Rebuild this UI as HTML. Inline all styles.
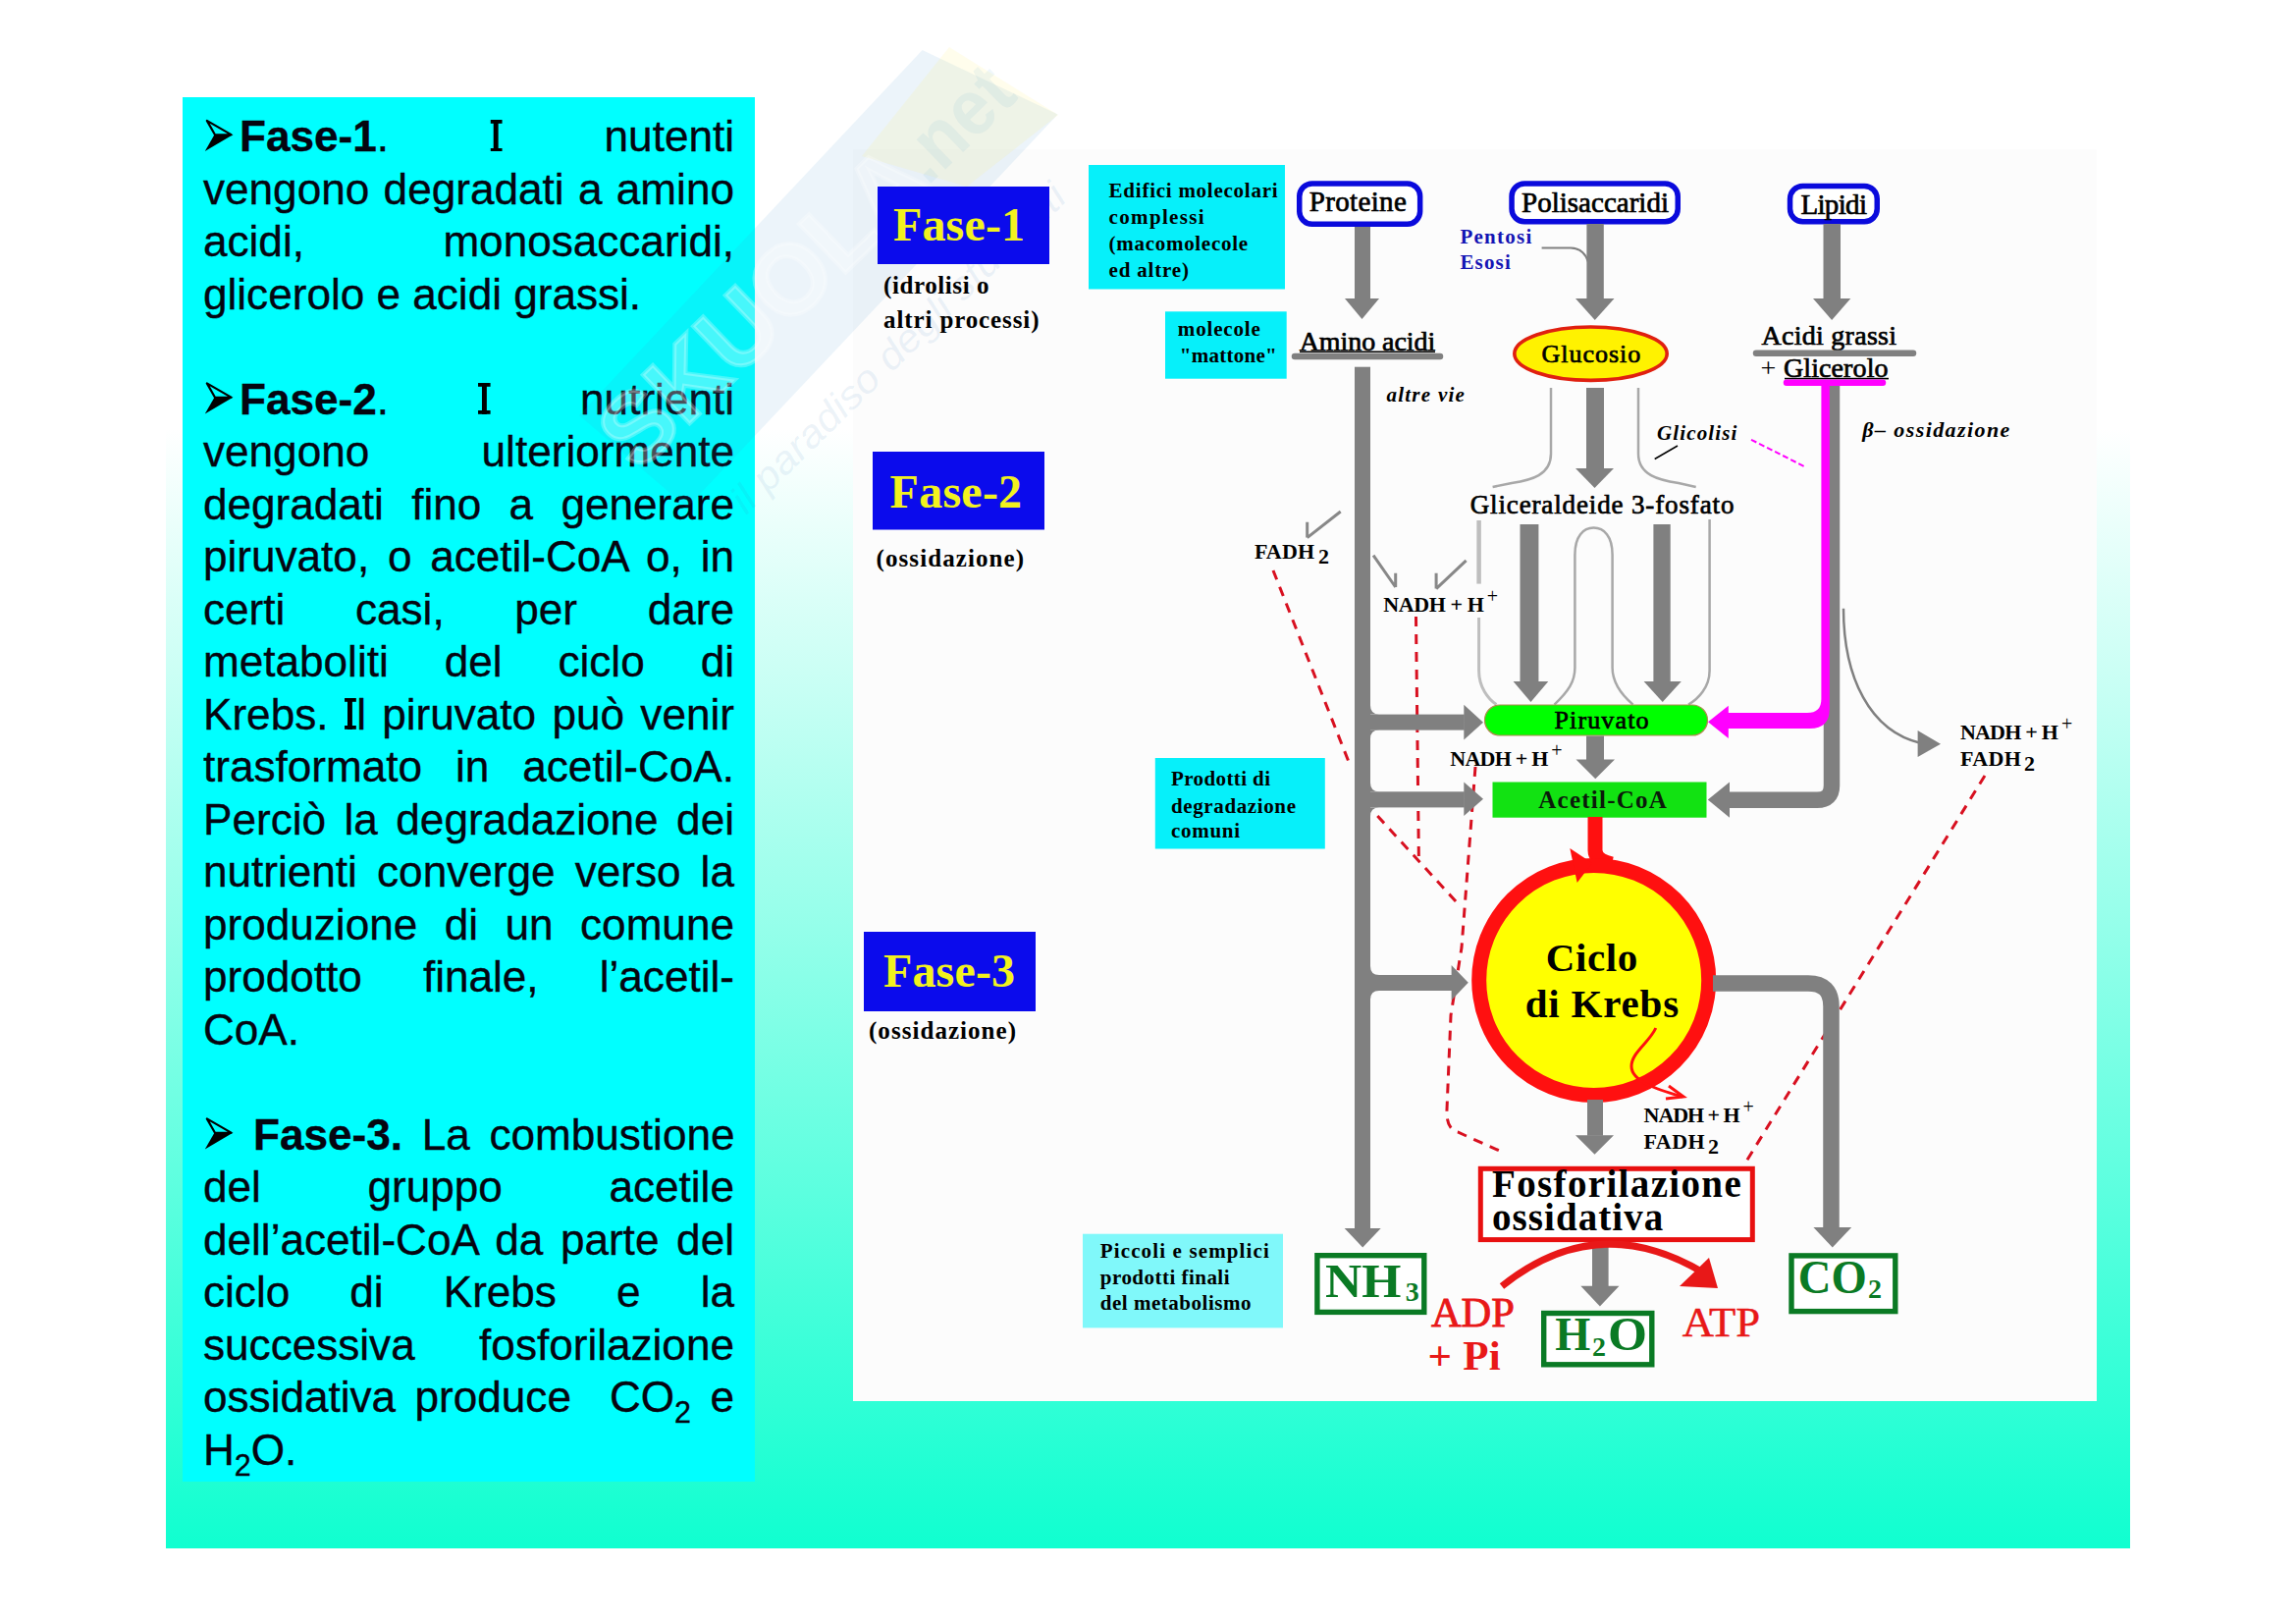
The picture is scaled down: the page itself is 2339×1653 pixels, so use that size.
<!DOCTYPE html>
<html><head><meta charset="utf-8">
<style>
html,body{margin:0;padding:0;background:#fff;width:2339px;height:1653px;overflow:hidden;position:relative}
#slide{position:absolute;left:169px;top:76px;width:2001px;height:1501px;background:linear-gradient(to bottom,#ffffff 0%,#ffffff 24%,#10FFD0 100%)}
#tbox{position:absolute;left:186px;top:99px;width:583px;height:1410px;background:#00FFFF}
.ln{position:absolute;font-family:"Liberation Sans",sans-serif;font-size:45px;line-height:45px;height:45px;white-space:nowrap;color:#050510;-webkit-text-stroke:0.35px #050510;transform:scaleX(0.98);transform-origin:0 0;text-align:left}
.ln.j{text-align:justify;text-align-last:justify}
.I{display:inline-block;width:12.6px;height:32px;vertical-align:baseline;background:linear-gradient(#000,#000) center/5.4px 100% no-repeat,linear-gradient(#000,#000) top/100% 3.8px no-repeat,linear-gradient(#000,#000) bottom/100% 3.8px no-repeat}
.ln sub{font-size:0.69em;vertical-align:-0.35em;line-height:0}
svg{position:absolute;left:0;top:0}
</style></head><body>
<div id="slide"></div>
<div id="tbox"></div>
<div class="ln j" style="left:244px;top:116.4px;width:514.3px"><b>Fase-1</b>. <span class="I"></span> nutenti</div>
<div class="ln j" style="left:207px;top:169.9px;width:552.0px">vengono degradati a amino</div>
<div class="ln j" style="left:207px;top:223.4px;width:552.0px">acidi, monosaccaridi,</div>
<div class="ln" style="left:207px;top:276.9px;width:552.0px">glicerolo e acidi grassi.</div>
<div class="ln j" style="left:244px;top:383.9px;width:514.3px"><b>Fase-2</b>. <span class="I"></span> nutrienti</div>
<div class="ln j" style="left:207px;top:437.4px;width:552.0px">vengono ulteriormente</div>
<div class="ln j" style="left:207px;top:490.9px;width:552.0px">degradati fino a generare</div>
<div class="ln j" style="left:207px;top:544.4px;width:552.0px">piruvato, o acetil-CoA o, in</div>
<div class="ln j" style="left:207px;top:597.9px;width:552.0px">certi casi, per dare</div>
<div class="ln j" style="left:207px;top:651.4px;width:552.0px">metaboliti del ciclo di</div>
<div class="ln j" style="left:207px;top:704.9px;width:552.0px">Krebs. <span class="I"></span>l piruvato può venir</div>
<div class="ln j" style="left:207px;top:758.4px;width:552.0px">trasformato in acetil-CoA.</div>
<div class="ln j" style="left:207px;top:811.9px;width:552.0px">Perciò la degradazione dei</div>
<div class="ln j" style="left:207px;top:865.4px;width:552.0px">nutrienti converge verso la</div>
<div class="ln j" style="left:207px;top:918.9px;width:552.0px">produzione di un comune</div>
<div class="ln j" style="left:207px;top:972.4px;width:552.0px">prodotto finale, l’acetil-</div>
<div class="ln" style="left:207px;top:1025.9px;width:552.0px">CoA.</div>
<div class="ln j" style="left:257.5px;top:1132.9px;width:500.5px"><b>Fase-3.</b> La combustione</div>
<div class="ln j" style="left:207px;top:1186.4px;width:552.0px">del gruppo acetile</div>
<div class="ln j" style="left:207px;top:1239.9px;width:552.0px">dell’acetil-CoA da parte del</div>
<div class="ln j" style="left:207px;top:1293.4px;width:552.0px">ciclo di Krebs e la</div>
<div class="ln j" style="left:207px;top:1346.9px;width:552.0px">successiva fosforilazione</div>
<div class="ln j" style="left:207px;top:1400.4px;width:552.0px">ossidativa produce &nbsp;CO<sub>2</sub> e</div>
<div class="ln" style="left:207px;top:1453.9px;width:552.0px">H<sub>2</sub>O.</div>
<svg width="2339" height="1653" viewBox="0 0 2339 1653">
<polygon points="218.4,137.3 237.6,137.1 208.8,153.9" fill="#000"/>
<polygon points="210.8,122.9 235.5,137.1 219,137.3" fill="none" stroke="#000" stroke-width="2.2" stroke-linejoin="round"/>
<polygon points="218.4,404.8 237.6,404.6 208.8,421.4" fill="#000"/>
<polygon points="210.8,390.4 235.5,404.6 219,404.8" fill="none" stroke="#000" stroke-width="2.2" stroke-linejoin="round"/>
<polygon points="218.4,1153.8 237.6,1153.6 208.8,1170.4" fill="#000"/>
<polygon points="210.8,1139.4 235.5,1153.6 219,1153.8" fill="none" stroke="#000" stroke-width="2.2" stroke-linejoin="round"/>
<rect x="869" y="152" width="1267" height="1275" fill="#FCFCFC" />
<g opacity="1">
<polygon points="590,423 939.6,51 1077.6,116.6 700,517" fill="rgba(70,150,210,0.10)"/>
<polygon points="878,159 967,48 1078,117 985,190" fill="rgba(255,240,120,0.14)"/>
<text x="0" y="0" transform="translate(650,482) rotate(-44)" font-family="Liberation Sans" font-weight="bold" font-size="100" textLength="420" lengthAdjust="spacingAndGlyphs" fill="rgba(255,255,255,0.26)" stroke="rgba(255,255,255,0.26)" stroke-width="4">SKUOLA</text>
<text x="0" y="0" transform="translate(945,190) rotate(-44)" font-family="Liberation Sans" font-weight="bold" font-size="80" textLength="130" lengthAdjust="spacingAndGlyphs" fill="rgba(70,150,210,0.08)">.net</text>
<text x="0" y="0" transform="translate(760,525) rotate(-44.4)" font-family="Liberation Sans" font-style="italic" font-size="40" textLength="460" lengthAdjust="spacingAndGlyphs" fill="rgba(70,130,190,0.10)">il paradiso degli studenti</text>
</g>
<path d="M1297,581 L1376,781" stroke="#D81020" stroke-width="3" fill="none" stroke-dasharray="10,8"/>
<path d="M1403.3,831 L1484.6,919.7" stroke="#D81020" stroke-width="3" fill="none" stroke-dasharray="10,8"/>
<path d="M1442.5,628 L1445.4,877" stroke="#D81020" stroke-width="3" fill="none" stroke-dasharray="10,8"/>
<path d="M1503,781 L1489,965 L1478,1034 L1474,1130 Q1473,1150 1485,1153 L1532,1174" stroke="#D81020" stroke-width="3" fill="none" stroke-dasharray="10,8"/>
<path d="M2022,790 L1777,1186" stroke="#D81020" stroke-width="3" fill="none" stroke-dasharray="10,8"/>
<rect x="894" y="190" width="175" height="79" fill="#0B0BEC" />
<text x="910" y="245" font-family="Liberation Serif" font-size="48" font-weight="bold" font-style="normal" fill="#F2F21E" textLength="134" lengthAdjust="spacing" >Fase-1</text>
<rect x="889" y="460" width="175" height="79.5" fill="#0B0BEC" />
<text x="906.6" y="517" font-family="Liberation Serif" font-size="48" font-weight="bold" font-style="normal" fill="#F2F21E" textLength="134.5" lengthAdjust="spacing" >Fase-2</text>
<rect x="880" y="949" width="175" height="81" fill="#0B0BEC" />
<text x="900" y="1004.7" font-family="Liberation Serif" font-size="48" font-weight="bold" font-style="normal" fill="#F2F21E" textLength="134" lengthAdjust="spacing" >Fase-3</text>
<text x="900" y="299.2" font-family="Liberation Serif" font-size="25" font-weight="bold" font-style="normal" fill="#000" textLength="107.5" lengthAdjust="spacing" >(idrolisi o</text>
<text x="900" y="333.6" font-family="Liberation Serif" font-size="25" font-weight="bold" font-style="normal" fill="#000" textLength="158.5" lengthAdjust="spacing" >altri processi)</text>
<text x="892.6" y="577.4" font-family="Liberation Serif" font-size="25" font-weight="bold" font-style="normal" fill="#000" textLength="150.4" lengthAdjust="spacing" >(ossidazione)</text>
<text x="885" y="1057.5" font-family="Liberation Serif" font-size="25" font-weight="bold" font-style="normal" fill="#000" textLength="150" lengthAdjust="spacing" >(ossidazione)</text>
<rect x="1109" y="168" width="200" height="126.5" fill="#06F0FA" />
<text x="1129.6" y="200.8" font-family="Liberation Serif" font-size="21" font-weight="bold" font-style="normal" fill="#000" textLength="172" lengthAdjust="spacing" >Edifici molecolari</text>
<text x="1129.6" y="227.6" font-family="Liberation Serif" font-size="21" font-weight="bold" font-style="normal" fill="#000" textLength="97" lengthAdjust="spacing" >complessi</text>
<text x="1129.6" y="255" font-family="Liberation Serif" font-size="21" font-weight="bold" font-style="normal" fill="#000" textLength="141.4" lengthAdjust="spacing" >(macomolecole</text>
<text x="1129.6" y="281.6" font-family="Liberation Serif" font-size="21" font-weight="bold" font-style="normal" fill="#000" textLength="81.4" lengthAdjust="spacing" >ed altre)</text>
<rect x="1187" y="317.3" width="123.7" height="68.4" fill="#06F0FA" />
<text x="1199.8" y="342.2" font-family="Liberation Serif" font-size="21" font-weight="bold" font-style="normal" fill="#000" textLength="84" lengthAdjust="spacing" >molecole</text>
<text x="1201.7" y="369" font-family="Liberation Serif" font-size="21" font-weight="bold" font-style="normal" fill="#000" textLength="99" lengthAdjust="spacing" >"mattone"</text>
<rect x="1176.8" y="772" width="173" height="92.5" fill="#06F0FA" />
<text x="1193" y="800.4" font-family="Liberation Serif" font-size="21" font-weight="bold" font-style="normal" fill="#000" textLength="101" lengthAdjust="spacing" >Prodotti di</text>
<text x="1193" y="827.5" font-family="Liberation Serif" font-size="21" font-weight="bold" font-style="normal" fill="#000" textLength="127" lengthAdjust="spacing" >degradazione</text>
<text x="1193" y="853.4" font-family="Liberation Serif" font-size="21" font-weight="bold" font-style="normal" fill="#000" textLength="70" lengthAdjust="spacing" >comuni</text>
<rect x="1103" y="1256.7" width="204" height="95.7" fill="#80F8FA" />
<text x="1120.8" y="1281.3" font-family="Liberation Serif" font-size="21" font-weight="bold" font-style="normal" fill="#000" textLength="172" lengthAdjust="spacing" >Piccoli e semplici</text>
<text x="1120.8" y="1308" font-family="Liberation Serif" font-size="21" font-weight="bold" font-style="normal" fill="#000" textLength="131.7" lengthAdjust="spacing" >prodotti finali</text>
<text x="1120.8" y="1334" font-family="Liberation Serif" font-size="21" font-weight="bold" font-style="normal" fill="#000" textLength="153.7" lengthAdjust="spacing" >del metabolismo</text>
<rect x="1323.75" y="186.95" width="122.90000000000009" height="41.30000000000001" rx="13" ry="13" fill="#fff" stroke="#0A0ADC" stroke-width="5.5"/>
<text x="1333.8" y="214.7" font-family="Liberation Serif" font-size="29" font-weight="normal" font-style="normal" fill="#000" textLength="99" lengthAdjust="spacing" stroke="#000" stroke-width="0.7">Proteine</text>
<rect x="1540.05" y="186.95" width="169.20000000000005" height="38.900000000000006" rx="13" ry="13" fill="#fff" stroke="#0A0ADC" stroke-width="5.5"/>
<text x="1550" y="215.6" font-family="Liberation Serif" font-size="29" font-weight="normal" font-style="normal" fill="#000" textLength="150" lengthAdjust="spacing" stroke="#000" stroke-width="0.7">Polisaccaridi</text>
<rect x="1823.55" y="189.45" width="88.70000000000005" height="36.400000000000006" rx="13" ry="13" fill="#fff" stroke="#0A0ADC" stroke-width="5.5"/>
<text x="1834.4" y="217.5" font-family="Liberation Serif" font-size="29" font-weight="normal" font-style="normal" fill="#000" textLength="67.6" lengthAdjust="spacing" stroke="#000" stroke-width="0.7">Lipidi</text>
<rect x="1380" y="231" width="16" height="73.5" fill="#808080" />
<polygon points="1370,304 1405,304 1387.5,325" fill="#808080" />
<rect x="1616.4" y="228" width="17.399999999999864" height="76.5" fill="#808080" />
<polygon points="1605,304 1644.5,304 1624.75,326" fill="#808080" />
<rect x="1857.5" y="228" width="17.5" height="76.5" fill="#808080" />
<polygon points="1847,304 1885.3,304 1866.15,326" fill="#808080" />
<text x="1487.4" y="248" font-family="Liberation Serif" font-size="21" font-weight="bold" font-style="normal" fill="#1414B4" textLength="73" lengthAdjust="spacing" >Pentosi</text>
<text x="1487.4" y="274.2" font-family="Liberation Serif" font-size="21" font-weight="bold" font-style="normal" fill="#1414B4" textLength="51.4" lengthAdjust="spacing" >Esosi</text>
<path d="M1570.6,252.6 L1600,252.6 Q1614,253 1618,267" stroke="#808080" stroke-width="2" fill="none" />
<text x="1323.7" y="357" font-family="Liberation Serif" font-size="28" font-weight="normal" font-style="normal" fill="#000" textLength="138.6" lengthAdjust="spacing" stroke="#000" stroke-width="0.7">Amino acidi</text>
<rect x="1324" y="357.5" width="138" height="1.6" fill="#000" />
<line x1="1319" y1="363" x2="1467" y2="363" stroke="#808080" stroke-width="6.5" stroke-linecap="round"/>
<text x="1794.6" y="351" font-family="Liberation Serif" font-size="28" font-weight="normal" font-style="normal" fill="#000" textLength="137.4" lengthAdjust="spacing" stroke="#000" stroke-width="0.7">Acidi grassi</text>
<line x1="1789" y1="359.7" x2="1949" y2="359.7" stroke="#808080" stroke-width="6.5" stroke-linecap="round"/>
<text x="1793.5" y="384.4" font-family="Liberation Serif" font-size="28" font-weight="normal" font-style="normal" fill="#000" textLength="18" lengthAdjust="spacing" >+</text>
<text x="1817" y="384.4" font-family="Liberation Serif" font-size="28" font-weight="normal" font-style="normal" fill="#000" textLength="106.5" lengthAdjust="spacing" stroke="#000" stroke-width="0.7">Glicerolo</text>
<rect x="1818" y="384.8" width="106" height="1.6" fill="#000" />
<line x1="1820" y1="389.7" x2="1918" y2="389.7" stroke="#FF00FF" stroke-width="6.5" stroke-linecap="round"/>
<ellipse cx="1620.5" cy="360.2" rx="77.7" ry="27.2" fill="#FFF200" stroke="#E02010" stroke-width="3.6"/>
<text x="1570.6" y="369" font-family="Liberation Serif" font-size="26" font-weight="normal" font-style="normal" fill="#000" textLength="100.7" lengthAdjust="spacing" stroke="#000" stroke-width="0.7">Glucosio</text>
<text x="1412.4" y="408.8" font-family="Liberation Serif" font-size="21" font-weight="bold" font-style="italic" fill="#000" textLength="79.5" lengthAdjust="spacing" >altre vie</text>
<rect x="1380" y="373.7" width="16" height="877.8" fill="#808080" />
<polygon points="1369.7,1251 1406.7,1251 1388.2,1270.5" fill="#808080" />
<rect x="1616" y="395" width="18" height="82.5" fill="#808080" />
<polygon points="1605,477 1644,477 1624.5,497" fill="#808080" />
<path d="M1580,395 L1580,462 C1580,484 1560,489 1540,492 L1520.6,496" stroke="#A8A8A8" stroke-width="2.5" fill="none" />
<path d="M1669,395 L1669,462 C1669,484 1690,489 1710,492 L1727.7,496" stroke="#A8A8A8" stroke-width="2.5" fill="none" />
<text x="1497.7" y="522.9" font-family="Liberation Serif" font-size="27" font-weight="normal" font-style="normal" fill="#000" textLength="268.7" lengthAdjust="spacing" stroke="#000" stroke-width="0.7">Gliceraldeide 3-fosfato</text>
<text x="1688" y="447.7" font-family="Liberation Serif" font-size="21" font-weight="bold" font-style="italic" fill="#000" textLength="81.4" lengthAdjust="spacing" >Glicolisi</text>
<text x="1897.3" y="444.5" font-family="Liberation Serif" font-size="22" font-weight="bold" font-style="italic" fill="#000" textLength="150" lengthAdjust="spacing" >β– ossidazione</text>
<path d="M1685.7,467.5 L1709,454" stroke="#000" stroke-width="1.5" fill="none" />
<path d="M1784,447.8 L1840,476" stroke="#FF00FF" stroke-width="2" fill="none" stroke-dasharray="6,3"/>
<path d="M1506.6,530 L1506.6,594.6" stroke="#BEBEBE" stroke-width="4.5" fill="none" />
<path d="M1506.6,629 L1506.6,683 C1506.6,700 1516,712 1524.4,717.6" stroke="#BEBEBE" stroke-width="3" fill="none" />
<path d="M1741.6,529 L1741.6,683 C1741.6,700 1730,712 1720,717.6" stroke="#A8A8A8" stroke-width="2.5" fill="none" />
<path d="M1583.5,717.6 C1598,704 1604.4,694 1604.4,680 L1604.4,565 C1604.4,546 1613,537.6 1623.5,537.6 C1634,537.6 1642.6,546 1642.6,565 L1642.6,680 C1642.6,694 1650,706 1663.6,717.6" stroke="#A8A8A8" stroke-width="2.5" fill="none" />
<rect x="1548.5" y="534" width="18.90000000000009" height="160.5" fill="#808080" />
<polygon points="1541.6,694 1577.3,694 1559.4499999999998,715" fill="#808080" />
<rect x="1684.4" y="534" width="17.299999999999955" height="160.5" fill="#808080" />
<polygon points="1674.6,694 1712.8,694 1693.6999999999998,715" fill="#808080" />
<rect x="1512.5" y="718" width="227" height="31" rx="15.5" ry="15.5" fill="#00FF00" stroke="#B08A50" stroke-width="1.2"/>
<text x="1583.5" y="742" font-family="Liberation Serif" font-size="26" font-weight="normal" font-style="normal" fill="#000" textLength="96" lengthAdjust="spacing" stroke="#000" stroke-width="0.7">Piruvato</text>
<rect x="1396" y="727.6" width="95.79999999999995" height="16.0" fill="#808080" />
<polygon points="1491.3,717.8 1491.3,753.6 1511,735.7" fill="#808080" />
<path d="M1396,718.6 Q1396,727.6 1405,727.6 L1396,727.6 Z" fill="#808080"/>
<path d="M1396,752.6 Q1396,743.6 1405,743.6 L1396,743.6 Z" fill="#808080"/>
<rect x="1396" y="806.3" width="95.79999999999995" height="16.100000000000023" fill="#808080" />
<polygon points="1491.3,796.6 1491.3,831 1511,813.8" fill="#808080" />
<path d="M1396,797.3 Q1396,806.3 1405,806.3 L1396,806.3 Z" fill="#808080"/>
<path d="M1396,831.4 Q1396,822.4 1405,822.4 L1396,822.4 Z" fill="#808080"/>
<rect x="1396" y="993" width="83.09999999999991" height="16" fill="#808080" />
<polygon points="1478.6,983 1478.6,1018.7 1495.8,1000.85" fill="#808080" />
<path d="M1396,984 Q1396,993 1405,993 L1396,993 Z" fill="#808080"/>
<path d="M1396,1018 Q1396,1009 1405,1009 L1396,1009 Z" fill="#808080"/>
<rect x="1616" y="749.5" width="18" height="24.5" fill="#808080" />
<polygon points="1605.5,773.5 1645,773.5 1625.25,793.3" fill="#808080" />
<rect x="1520.5" y="796.5" width="218" height="36.2" fill="#12E212" />
<text x="1567.3" y="822.8" font-family="Liberation Serif" font-size="25" font-weight="bold" font-style="normal" fill="#0A1A0A" textLength="130.6" lengthAdjust="spacing" >Acetil-CoA</text>
<path d="M1866,393 L1866,800 Q1866,814.8 1851,814.8 L1760,814.8" stroke="#808080" stroke-width="16.5" fill="none" />
<polygon points="1762,796.5 1762,832.7 1739.8,814.6" fill="#808080" />
<path d="M1855.4,393 L1863.8,393 L1863.8,722 Q1863.8,742 1843.8,742 L1758,742 L1758,726 L1841,726 Q1855.4,726 1855.4,712 Z" fill="#FF00FF"/>
<polygon points="1760.8,718.7 1760.8,752 1740,735.3" fill="#FF00FF" />
<path d="M1878,619.7 C1878,690 1905,745 1957,757" stroke="#808080" stroke-width="2.5" fill="none" />
<polygon points="1953.6,744 1953.6,771 1977,757.7" fill="#808080" />
<path d="M1625,832 L1625,866 Q1625,876 1642,880" stroke="#FF1010" stroke-width="15" fill="none" />
<circle cx="1623.7" cy="998.4" r="117" fill="#FFFF00" stroke="#FF1010" stroke-width="15"/>
<polygon points="1599.3,864 1622,879 1606.7,899" fill="#FF1010" />
<text x="1574.7" y="989.2" font-family="Liberation Serif" font-size="41" font-weight="bold" font-style="normal" fill="#000" textLength="93.6" lengthAdjust="spacing" >Ciclo</text>
<text x="1553.7" y="1036" font-family="Liberation Serif" font-size="41" font-weight="bold" font-style="normal" fill="#000" textLength="156.5" lengthAdjust="spacing" >di Krebs</text>
<path d="M1686.8,1047 C1680,1062 1662,1072 1662,1086 C1662,1102 1690,1110 1714,1117" stroke="#FF1010" stroke-width="3" fill="none" />
<path d="M1700,1106 L1715,1117 L1697,1119" stroke="#FF1010" stroke-width="3" fill="none" />
<path d="M1745,1001.4 L1842,1001.4 Q1865.5,1001.4 1865.5,1025 L1865.5,1251" stroke="#808080" stroke-width="16.5" fill="none" />
<polygon points="1847.4,1250 1886.2,1250 1866.8,1270.5" fill="#808080" />
<rect x="1617" y="1120" width="16" height="36.700000000000045" fill="#808080" />
<polygon points="1605,1156.2 1644,1156.2 1624.5,1175.8" fill="#808080" />
<rect x="1508.3" y="1190.3" width="277" height="72.3" fill="#fff" stroke="#E81010" stroke-width="5"/>
<text x="1520" y="1219.4" font-family="Liberation Serif" font-size="39" font-weight="bold" font-style="normal" fill="#000" textLength="253.7" lengthAdjust="spacing" >Fosforilazione</text>
<text x="1520" y="1253" font-family="Liberation Serif" font-size="39" font-weight="bold" font-style="normal" fill="#000" textLength="174.2" lengthAdjust="spacing" >ossidativa</text>
<rect x="1622" y="1265" width="16.59999999999991" height="45.200000000000045" fill="#808080" />
<polygon points="1610.3,1309.7 1649.5,1309.7 1629.9,1330.4" fill="#808080" />
<rect x="1341.9" y="1278.7" width="108.89999999999995" height="57.69999999999991" fill="#fff" stroke="#0A7A24" stroke-width="5.4"/>
<text x="1350" y="1320.6" font-family="Liberation Serif" font-size="48" font-weight="bold" font-style="normal" fill="#0A7A24" textLength="77.4" lengthAdjust="spacingAndGlyphs" >NH</text>
<text x="1431.7" y="1325" font-family="Liberation Serif" font-size="28" font-weight="bold" font-style="normal" fill="#0A7A24" textLength="13.1" lengthAdjust="spacing" >3</text>
<rect x="1572.7" y="1337.5" width="110.1" height="52.30000000000005" fill="#fff" stroke="#0A7A24" stroke-width="5.4"/>
<text x="1584.2" y="1375" font-family="Liberation Serif" font-size="48" font-weight="bold" font-style="normal" fill="#0A7A24" textLength="36" lengthAdjust="spacingAndGlyphs" >H</text>
<text x="1622" y="1380.5" font-family="Liberation Serif" font-size="28" font-weight="bold" font-style="normal" fill="#0A7A24" textLength="13" lengthAdjust="spacing" >2</text>
<text x="1638" y="1375" font-family="Liberation Serif" font-size="48" font-weight="bold" font-style="normal" fill="#0A7A24" textLength="40" lengthAdjust="spacingAndGlyphs" >O</text>
<rect x="1825.0" y="1278.9" width="105.80000000000004" height="56.69999999999991" fill="#fff" stroke="#0A7A24" stroke-width="5.4"/>
<text x="1831.8" y="1317" font-family="Liberation Serif" font-size="48" font-weight="bold" font-style="normal" fill="#0A7A24" textLength="70" lengthAdjust="spacingAndGlyphs" >CO</text>
<text x="1903" y="1322" font-family="Liberation Serif" font-size="28" font-weight="bold" font-style="normal" fill="#0A7A24" textLength="13" lengthAdjust="spacing" >2</text>
<text x="1457.9" y="1351.1" font-family="Liberation Serif" font-size="43" font-weight="normal" font-style="normal" fill="#E81818" textLength="85" lengthAdjust="spacingAndGlyphs" stroke="#E81818" stroke-width="0.9">ADP</text>
<text x="1454.6" y="1394.7" font-family="Liberation Serif" font-size="43" font-weight="bold" font-style="normal" fill="#E81818" textLength="74" lengthAdjust="spacing" >+ Pi</text>
<text x="1713.8" y="1361" font-family="Liberation Serif" font-size="43" font-weight="normal" font-style="normal" fill="#E81818" textLength="79.4" lengthAdjust="spacingAndGlyphs" stroke="#E81818" stroke-width="0.5">ATP</text>
<path d="M1530,1310 Q1627,1232 1735,1296" stroke="#E81818" stroke-width="7" fill="none" />
<polygon points="1711,1310 1741,1281 1750,1312" fill="#E81818" />
<text x="1409.3" y="623.4" font-family="Liberation Serif" font-size="22" font-weight="bold" font-style="normal" fill="#000" textLength="102.5" lengthAdjust="spacing" >NADH + H</text>
<text x="1514.8" y="614.4" font-family="Liberation Serif" font-size="20" font-weight="normal" font-style="normal" fill="#000" textLength="13" lengthAdjust="spacing" >+</text>
<text x="1477.3" y="779.7" font-family="Liberation Serif" font-size="22" font-weight="bold" font-style="normal" fill="#000" textLength="100" lengthAdjust="spacing" >NADH + H</text>
<text x="1580.3" y="770.7" font-family="Liberation Serif" font-size="20" font-weight="normal" font-style="normal" fill="#000" textLength="13" lengthAdjust="spacing" >+</text>
<text x="1674.6" y="1143.2" font-family="Liberation Serif" font-size="22" font-weight="bold" font-style="normal" fill="#000" textLength="98" lengthAdjust="spacing" >NADH + H</text>
<text x="1775.6" y="1134.2" font-family="Liberation Serif" font-size="20" font-weight="normal" font-style="normal" fill="#000" textLength="13" lengthAdjust="spacing" >+</text>
<text x="1674.6" y="1169.7" font-family="Liberation Serif" font-size="22" font-weight="bold" font-style="normal" fill="#000" textLength="62" lengthAdjust="spacing" >FADH</text>
<text x="1740" y="1174.7" font-family="Liberation Serif" font-size="22" font-weight="bold" font-style="normal" fill="#000" textLength="9" lengthAdjust="spacing" >2</text>
<text x="1996.9" y="752.7" font-family="Liberation Serif" font-size="22" font-weight="bold" font-style="normal" fill="#000" textLength="100" lengthAdjust="spacing" >NADH + H</text>
<text x="2099.9" y="743.7" font-family="Liberation Serif" font-size="20" font-weight="normal" font-style="normal" fill="#000" textLength="13" lengthAdjust="spacing" >+</text>
<text x="1996.9" y="779.8" font-family="Liberation Serif" font-size="22" font-weight="bold" font-style="normal" fill="#000" textLength="62" lengthAdjust="spacing" >FADH</text>
<text x="2062" y="784.8" font-family="Liberation Serif" font-size="22" font-weight="bold" font-style="normal" fill="#000" textLength="9" lengthAdjust="spacing" >2</text>
<text x="1277.9" y="568.5" font-family="Liberation Serif" font-size="22" font-weight="bold" font-style="normal" fill="#000" textLength="61.2" lengthAdjust="spacing" >FADH</text>
<text x="1343" y="573.6" font-family="Liberation Serif" font-size="22" font-weight="bold" font-style="normal" fill="#000" textLength="9.1" lengthAdjust="spacing" >2</text>
<path d="M1365.7,521 L1331.7,547.6 M1331.7,531.7 L1331.7,547.6" stroke="#888" stroke-width="3" fill="none" />
<path d="M1399.1,565.7 L1421.7,598 M1421.7,583.8 L1421.7,598" stroke="#888" stroke-width="3" fill="none" />
<path d="M1493.6,570.8 L1463.1,599.6 M1463.1,583.8 L1463.1,599.6" stroke="#888" stroke-width="3" fill="none" />
</svg>
</body></html>
